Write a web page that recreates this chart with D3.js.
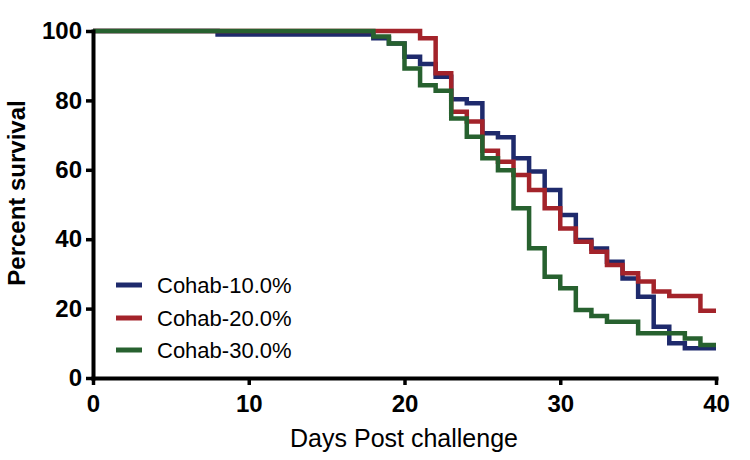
<!DOCTYPE html>
<html>
<head>
<meta charset="utf-8">
<script src="https://cdn.jsdelivr.net/npm/d3@7"></script>
<style>
  html, body { margin: 0; padding: 0; background: #fff; }
  svg { display: block; }
  text { font-family: "Liberation Sans", Arial, Helvetica, sans-serif; }
</style>
</head>
<body>
<svg id="chart" width="750" height="460"></svg>
<script>
// ---- Data ----
const seriesNames = ["Cohab-10.0%", "Cohab-20.0%", "Cohab-30.0%"];

const days10 = [0, 8, 18, 19, 20, 21, 22, 23, 24, 25, 26, 27, 28, 29, 30, 31, 32, 33, 34, 35, 36, 37, 38, 40];
const surv10 = [100, 99, 97.9, 96.4, 92.6, 90.5, 86.8, 80.3, 79.2, 70.5, 69.4, 63.3, 59.5, 54.2, 47, 39.8, 37.3, 33.5, 28.7, 23.4, 14.8, 10, 8.6, 8.6];

const days20 = [0, 21, 22, 23, 24, 25, 26, 27, 28, 29, 30, 31, 32, 33, 34, 35, 36, 37, 39, 40];
const surv20 = [100, 97.9, 87.8, 76.7, 73.9, 65.5, 62.3, 58.5, 54.2, 48.9, 43.1, 39.3, 36.4, 32.6, 30.2, 27.8, 24.9, 23.6, 19.4, 19.4];

const days30 = [0, 18, 19, 20, 21, 22, 23, 24, 25, 26, 27, 28, 29, 30, 31, 32, 33, 35, 38, 39, 40];
const surv30 = [100, 98.4, 96.4, 89.2, 84.4, 82.8, 74.8, 69.5, 63.3, 59.9, 48.9, 37.4, 29.2, 25.9, 19.6, 17.9, 16.2, 12.9, 11.4, 9.5, 9.5];

const xTicks = [0, 10, 20, 30, 40];
const yTicks = [0, 20, 40, 60, 80, 100];
const xTitle = "Days Post challenge";
const yTitle = "Percent survival";

// ---- Styles ----
const colors = ["#1e2a6c", "#a3232a", "#27612f"];

const svg = d3.select("#chart");
const x = d3.scaleLinear().domain([0, 40]).range([93, 716]);
const y = d3.scaleLinear().domain([0, 100]).range([378, 31]);

const series = [
  { name: seriesNames[0], days: days10, vals: surv10, color: colors[0] },
  { name: seriesNames[1], days: days20, vals: surv20, color: colors[1] },
  { name: seriesNames[2], days: days30, vals: surv30, color: colors[2] }
];

const line = d3.line()
  .x(d => x(d[0]))
  .y(d => y(d[1]))
  .curve(d3.curveStepAfter);

svg.append("g").selectAll("path")
  .data(series)
  .join("path")
  .attr("d", s => line(s.days.map((d, i) => [d, s.vals[i]])))
  .attr("fill", "none")
  .attr("stroke", s => s.color)
  .attr("stroke-width", 4.5)
  .attr("stroke-linejoin", "miter")
  .attr("stroke-linecap", "butt");

// ---- Axes ----
const xAxis = svg.append("g")
  .attr("transform", `translate(0,${y(0)})`)
  .call(d3.axisBottom(x).tickValues(xTicks).tickSize(7).tickSizeOuter(0).tickPadding(10));
const yAxis = svg.append("g")
  .attr("transform", `translate(${x(0)},0)`)
  .call(d3.axisLeft(y).tickValues(yTicks).tickSize(7).tickSizeOuter(0).tickPadding(4));

[xAxis, yAxis].forEach(g => {
  g.select(".domain").attr("stroke", "#000").attr("stroke-width", 4).attr("stroke-linecap", "square");
  g.selectAll(".tick line").attr("stroke", "#000").attr("stroke-width", 3.5);
  g.selectAll(".tick text")
    .attr("fill", "#000")
    .style("font-size", "24px")
    .style("font-weight", "bold")
    .style("font-family", "'Liberation Sans', Arial, sans-serif");
});

// ---- Titles ----
svg.append("text")
  .attr("x", 404)
  .attr("y", 447)
  .attr("text-anchor", "middle")
  .style("font-size", "25px")
  .text(xTitle);

svg.append("text")
  .attr("transform", `translate(25,193) rotate(-90)`)
  .attr("text-anchor", "middle")
  .style("font-size", "24px")
  .style("font-weight", "bold")
  .text(yTitle);

// ---- Legend ----
const legend = svg.append("g");
const legY = [285, 318, 350];
series.forEach((s, i) => {
  legend.append("line")
    .attr("x1", 116).attr("x2", 142)
    .attr("y1", legY[i]).attr("y2", legY[i])
    .attr("stroke", s.color).attr("stroke-width", 5);
  legend.append("text")
    .attr("x", 157)
    .attr("y", legY[i])
    .attr("dy", "0.35em")
    .style("font-size", "22px")
    .text(s.name);
});
</script>
</body>
</html>
